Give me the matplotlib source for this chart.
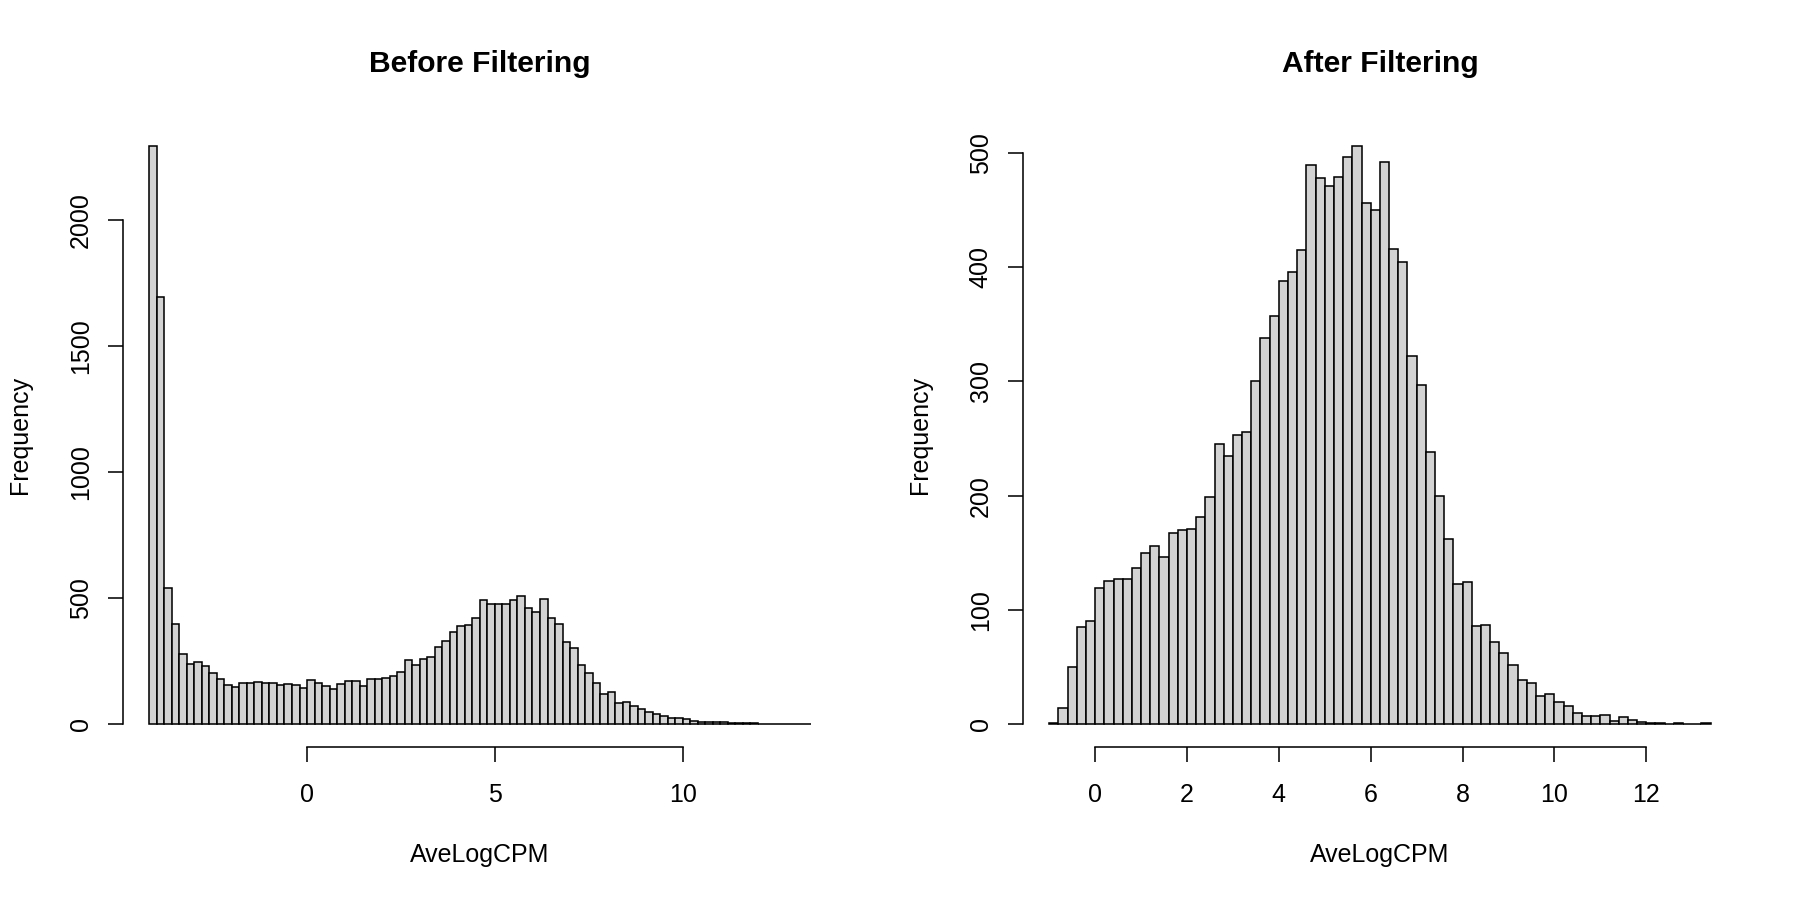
import numpy as np
import matplotlib
matplotlib.use("Agg")
import matplotlib.pyplot as plt

plt.rcParams['font.family'] = ['Liberation Sans', 'DejaVu Sans']

# histogram counts, bin width 0.2
before_start = -4.2
before_counts = [2293, 1694, 540, 396, 277, 240, 248, 229, 203, 178,
                 155, 146, 164, 164, 166, 163, 163, 155, 160, 154,
                 142, 174, 162, 150, 139, 159, 172, 172, 151, 178,
                 179, 182, 191, 206, 253, 236, 259, 265, 306, 330,
                 367, 390, 395, 419, 491, 476, 476, 477, 493, 508,
                 460, 446, 495, 420, 396, 324, 300, 233, 202, 163,
                 119, 126, 84, 88, 70, 60, 50, 40, 33, 23,
                 25, 19, 13, 9, 7, 7, 8, 4, 5, 3,
                 3, 2, 2, 1, 2, 1, 1, 1]

after_start = -1.0
after_counts = [1, 14, 50, 85, 90, 119, 125, 127, 127, 137,
                150, 156, 146, 167, 170, 171, 181, 199, 245, 235,
                253, 256, 300, 338, 357, 388, 396, 415, 489, 478,
                471, 479, 496, 506, 456, 450, 492, 416, 404, 322,
                297, 238, 200, 162, 123, 124, 86, 87, 72, 62,
                52, 39, 36, 25, 26, 19, 16, 10, 7, 7,
                8, 3, 6, 4, 2, 1, 1, 0, 1, 0,
                0, 1]

bin_width = 0.2
titles = ["Before Filtering", "After Filtering"]
xticks_list = [[0, 5, 10], [0, 2, 4, 6, 8, 10, 12]]
yticks_list = [[0, 500, 1000, 1500, 2000], [0, 100, 200, 300, 400, 500]]

LW = 0.75


def draw_hist(ax, start, counts, title, xticks, yticks):
    counts = np.array(counts)
    lefts = start + bin_width * np.arange(len(counts))
    ax.bar(lefts, counts, width=bin_width, align='edge',
           color='#D3D3D3', edgecolor='black', linewidth=LW)

    # R style 4% padding
    x0, x1 = start, start + bin_width * len(counts)
    dx = (x1 - x0) * 0.04
    ymax = counts.max()
    dy = ymax * 0.04
    ax.set_xlim(x0 - dx, x1 + dx)
    ax.set_ylim(-dy, ymax + dy)

    for s in ['top', 'right']:
        ax.spines[s].set_visible(False)
    for s in ['left', 'bottom']:
        ax.spines[s].set_linewidth(LW)
    ax.spines['bottom'].set_bounds(xticks[0], xticks[-1])
    ax.spines['left'].set_bounds(yticks[0], yticks[-1])

    ax.set_xticks(xticks)
    ax.set_yticks(yticks)
    ax.tick_params(axis='both', length=7.2, width=LW, labelsize=12)
    ax.tick_params(axis='x', pad=10)
    ax.tick_params(axis='y', pad=7.2, labelrotation=90)
    for lab in ax.get_yticklabels():
        lab.set_va('center')

    ax.set_title(title, fontsize=14.4, fontweight='bold', y=1 + 59 / 624.5,
                 va='center', pad=0)
    ax.set_xlabel("AveLogCPM", fontsize=12, va='center')
    ax.xaxis.set_label_coords(0.5, -108 / 624.5)
    ax.set_ylabel("Frequency", fontsize=12, va='center', ha='center')
    ax.yaxis.set_label_coords(-103 / 714.3, 0.5)


fig = plt.figure(figsize=(12, 6), dpi=150)
ax1 = fig.add_axes([0.0682, 0.1697, 0.3968, 0.6939])
ax2 = fig.add_axes([0.5682, 0.1697, 0.3968, 0.6939])

draw_hist(ax1, before_start, before_counts, titles[0], xticks_list[0], yticks_list[0])
draw_hist(ax2, after_start, after_counts, titles[1], xticks_list[1], yticks_list[1])

fig.savefig("out.png", dpi=150, facecolor='white')
